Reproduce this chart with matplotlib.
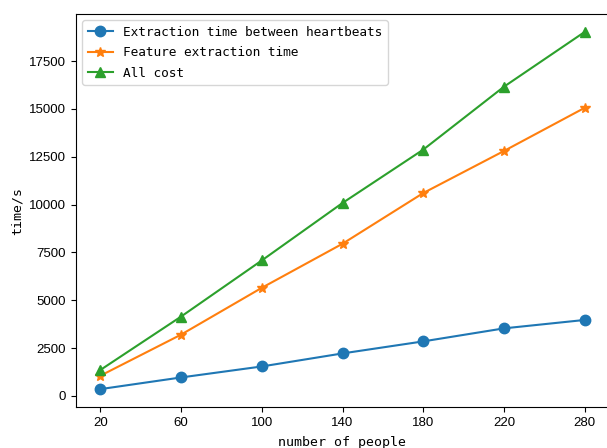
import matplotlib
matplotlib.use("Agg")
import matplotlib.pyplot as plt

people = [20, 60, 100, 140, 180, 220, 280]
heartbeat_time = [350, 960, 1535, 2217, 2846, 3527, 3967]
feature_time = [1048, 3197, 5645, 7950, 10600, 12800, 15058]
all_cost = [1347, 4140, 7075, 10080, 12870, 16160, 19025]

labels = ["Extraction time between heartbeats", "Feature extraction time", "All cost"]

W, H = 607, 448
fig = plt.figure(figsize=(W / 100, H / 100), dpi=100)
ax = fig.add_axes([76 / W, 1 - 407 / H, (609 - 76) / W, (407 - 14) / H])

x = list(range(len(people)))
ax.plot(x, heartbeat_time, marker="o", markersize=7.5, label=labels[0])
ax.plot(x, feature_time, marker="*", markersize=7.5, label=labels[1])
ax.plot(x, all_cost, marker="^", markersize=7.5, label=labels[2])
ax.spines["right"].set_visible(False)

ax.set_xticks(x)
ax.set_xticklabels([str(p) for p in people])
for t in ax.get_xticklabels() + ax.get_yticklabels():
    t.set_fontfamily("Liberation Sans")
    t.set_fontsize(9.5)

mono = "DejaVu Sans Mono"
ax.set_xlabel("number of people", fontfamily=mono, fontsize=9.5, labelpad=5)
ax.set_ylabel("time/s", fontfamily=mono, fontsize=9.5)
ax.legend(loc="upper left", prop={"family": mono, "size": 9.2}, labelspacing=0.6)

fig.savefig("out.png", dpi=100)
